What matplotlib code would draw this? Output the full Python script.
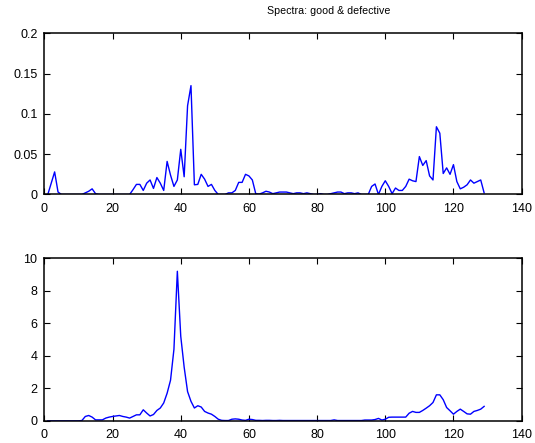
import numpy as np
import matplotlib
matplotlib.use('Agg')
import matplotlib.pyplot as plt

plt.rcParams['font.family'] = ['Liberation Sans', 'DejaVu Sans']
plt.rcParams['font.size'] = 9

# spectrum of the good part (bins 1..129)
good = [0.0, 0.014, 0.028, 0.003, 0.0, 0.0, 0.0, 0.0, 0.0, 0.0,
        0.0, 0.002, 0.004, 0.007, 0.001, 0.0, 0.0, 0.0, 0.0, 0.0,
        0.0, 0.0, 0.0, 0.0, 0.0, 0.006, 0.0125, 0.0125, 0.005, 0.014,
        0.018, 0.0075, 0.021, 0.014, 0.005, 0.041, 0.024, 0.01, 0.018, 0.056,
        0.022, 0.11, 0.135, 0.012, 0.0125, 0.025, 0.019, 0.01, 0.0125, 0.005,
        0.0, 0.0, 0.0, 0.002, 0.002, 0.005, 0.015, 0.015, 0.025, 0.023,
        0.018, 0.001, 0.0005, 0.002, 0.004, 0.003, 0.001, 0.002, 0.003, 0.003,
        0.003, 0.002, 0.001, 0.002, 0.002, 0.001, 0.002, 0.001, 0.0, 0.0,
        0.001, 0.0, 0.0, 0.001, 0.002, 0.003, 0.003, 0.001, 0.002, 0.002,
        0.001, 0.002, 0.0, 0.0, 0.0, 0.01, 0.013, 0.0, 0.01, 0.017,
        0.01, 0.001, 0.008, 0.005, 0.005, 0.01, 0.019, 0.017, 0.016, 0.047,
        0.036, 0.042, 0.023, 0.018, 0.084, 0.076, 0.026, 0.033, 0.025, 0.037,
        0.016, 0.007, 0.009, 0.012, 0.018, 0.014, 0.016, 0.018, 0.002]

# spectrum of the defective part
defective = [0.0, 0.0, 0.0, 0.0, 0.0, 0.0, 0.0, 0.0, 0.0, 0.0,
             0.02, 0.27, 0.33, 0.23, 0.06, 0.06, 0.06, 0.17, 0.23, 0.27,
             0.3, 0.33, 0.27, 0.23, 0.17, 0.27, 0.37, 0.37, 0.68, 0.48,
             0.3, 0.39, 0.64, 0.79, 1.1, 1.7, 2.5, 4.4, 9.2, 5.2,
             3.3, 1.8, 1.2, 0.79, 0.93, 0.85, 0.58, 0.48, 0.41, 0.27,
             0.1, 0.03, 0.02, 0.02, 0.1, 0.12, 0.1, 0.05, 0.03, 0.1,
             0.08, 0.03, 0.03, 0.02, 0.03, 0.03, 0.02, 0.02, 0.03, 0.02,
             0.02, 0.02, 0.02, 0.02, 0.02, 0.02, 0.02, 0.02, 0.02, 0.02,
             0.02, 0.02, 0.02, 0.02, 0.06, 0.02, 0.02, 0.02, 0.02, 0.02,
             0.02, 0.02, 0.02, 0.05, 0.05, 0.05, 0.08, 0.15, 0.05, 0.1,
             0.22, 0.23, 0.23, 0.23, 0.23, 0.23, 0.47, 0.58, 0.52, 0.52,
             0.64, 0.78, 0.93, 1.13, 1.6, 1.6, 1.3, 0.82, 0.62, 0.41,
             0.58, 0.72, 0.58, 0.43, 0.41, 0.58, 0.64, 0.72, 0.89]

bins = np.arange(1, len(good) + 1)

fig = plt.figure(figsize=(5.35, 4.43), dpi=100)
ax1 = fig.add_axes([0.083, 0.561, 0.892, 0.364])
ax2 = fig.add_axes([0.083, 0.050, 0.892, 0.367])

ax1.plot(bins, good, color='blue', linewidth=1)
ax1.set_xlim(0, 140)
ax1.set_ylim(0, 0.2)
ax1.set_yticks([0, 0.05, 0.1, 0.15, 0.2])
ax1.set_yticklabels(['0', '0.05', '0.1', '0.15', '0.2'])

ax2.plot(bins, defective, color='blue', linewidth=1)
ax2.set_xlim(0, 140)
ax2.set_ylim(0, 10)
ax2.set_yticks([0, 2, 4, 6, 8, 10])

for ax in (ax1, ax2):
    ax.set_xticks(range(0, 141, 20))
    ax.tick_params(direction='in', top=True, right=True, length=4, width=0.8)
    ax.tick_params(axis='x', pad=6)
    ax.tick_params(axis='y', pad=5)
    for s in ax.spines.values():
        s.set_linewidth(1.1)

fig.text(0.615, 0.975, 'Spectra: good & defective', ha='center', va='center', fontsize=7.7)

fig.savefig('out.png', dpi=100)
